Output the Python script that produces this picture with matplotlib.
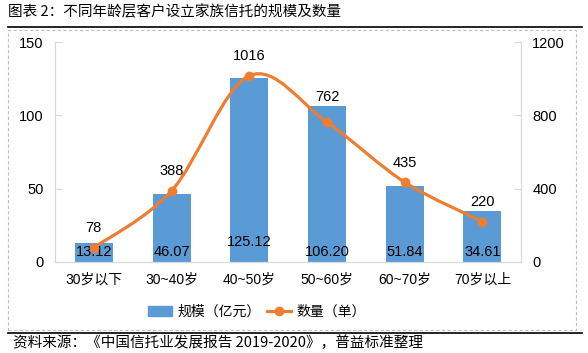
import matplotlib
matplotlib.use('Agg')
import matplotlib.pyplot as plt
from matplotlib.path import Path
from matplotlib.patches import PathPatch, Rectangle
from matplotlib.lines import Line2D

plt.rcParams['font.family'] = ['Liberation Sans', 'Noto Sans CJK SC', 'DejaVu Sans']

# Data
categories = ['30岁以下', '30~40岁', '40~50岁', '50~60岁', '60~70岁', '70岁以上']
scale = [13.12, 46.07, 125.12, 106.20, 51.84, 34.61]      # 亿元
counts = [78, 388, 1016, 762, 435, 220]                    # 单
scale_labels = ['13.12', '46.07', '125.12', '106.20', '51.84', '34.61']

bar_color = '#5B9BD5'
line_color = '#ED7D31'
grid_grey = '#D9D9D9'

fig = plt.figure(figsize=(5.88, 3.53), dpi=100)
ax = fig.add_axes([0.0935, 0.258, 0.793, 0.623])
ax2 = ax.twinx()

x = list(range(len(categories)))
ax.bar(x, scale, width=0.49, color=bar_color, zorder=2)
for xi, v, lab in zip(x, scale, scale_labels):
    dy = 14.5 if v > 120 else 7.5
    ax.annotate(lab, (xi, 0), xytext=(0, dy), textcoords='offset points',
                ha='center', va='center', fontsize=10.5, color='black')

# smoothed line (Bezier through data points, like Excel "smoothed line")
verts = [(x[0], counts[0])]
codes = [Path.MOVETO]
n = len(x)
for i in range(n - 1):
    p0 = (x[max(i - 1, 0)], counts[max(i - 1, 0)])
    p1 = (x[i], counts[i])
    p2 = (x[i + 1], counts[i + 1])
    p3 = (x[min(i + 2, n - 1)], counts[min(i + 2, n - 1)])
    c1 = (p1[0] + (p2[0] - p0[0]) / 6, p1[1] + (p2[1] - p0[1]) / 6)
    c2 = (p2[0] - (p3[0] - p1[0]) / 6, p2[1] - (p3[1] - p1[1]) / 6)
    verts += [c1, c2, p2]
    codes += [Path.CURVE4] * 3
ax2.add_patch(PathPatch(Path(verts, codes), facecolor='none', edgecolor=line_color,
                        lw=2.3, zorder=3, capstyle='round'))
ax2.plot(x, counts, 'o', color=line_color, markersize=6, zorder=4)
for xi, c in zip(x, counts):
    dy = 18 if c == 762 else 14
    ax2.annotate(str(c), (xi, c), xytext=(0, dy), textcoords='offset points',
                 ha='center', va='center', fontsize=10.5, color='black')

ax.set_xlim(-0.5, 5.5)
ax.set_ylim(0, 150)
ax.set_yticks([0, 50, 100, 150])
ax2.set_ylim(0, 1200)
ax2.set_yticks([0, 400, 800, 1200])
ax.set_xticks(x)
ax.set_xticklabels(categories)

for a in (ax, ax2):
    for s in a.spines.values():
        s.set_color(grid_grey)
    a.spines['top'].set_visible(False)
    a.tick_params(axis='y', length=5, color=grid_grey, labelsize=10.5, pad=8)
ax.tick_params(axis='x', length=0, labelsize=10, pad=8)
ax2.tick_params(axis='y', direction='in')
ax.tick_params(axis='y', direction='in')

# legend
handles = [Rectangle((0, 0), 1, 1, color=bar_color),
           Line2D([], [], color=line_color, lw=2.3, marker='o', markersize=6)]
fig.legend(handles, ['规模（亿元）', '数量（单）'], loc='center', bbox_to_anchor=(0.437, 0.117),
           ncol=2, frameon=False, handlelength=1.7, columnspacing=0.5,
           handletextpad=0.4, prop={'family': ['Noto Sans CJK SC'], 'size': 10})

# frame, title, source
fig.add_artist(Rectangle((0.0136, 0.065), 0.966, 0.85, transform=fig.transFigure,
                         fill=False, ls=(0, (3, 2)), lw=0.8, edgecolor='#BFBFBF'))
fig.add_artist(Line2D([0.0136, 0.99], [0.923, 0.923], transform=fig.transFigure,
                      color='black', lw=1.2))
fig.add_artist(Line2D([0.0136, 0.99], [0.057, 0.057], transform=fig.transFigure,
                      color='black', lw=1.2))
fig.text(0.0136, 0.966, '图表 2：不同年龄层客户设立家族信托的规模及数量', fontsize=10.5,
         va='center', ha='left', family=['Noto Sans CJK SC'])
fig.text(0.022, 0.03, '资料来源：《中国信托业发展报告 2019-2020》，普益标准整理', fontsize=10.5,
         va='center', ha='left', family=['Noto Sans CJK SC'])

fig.savefig('out.png', dpi=100)
